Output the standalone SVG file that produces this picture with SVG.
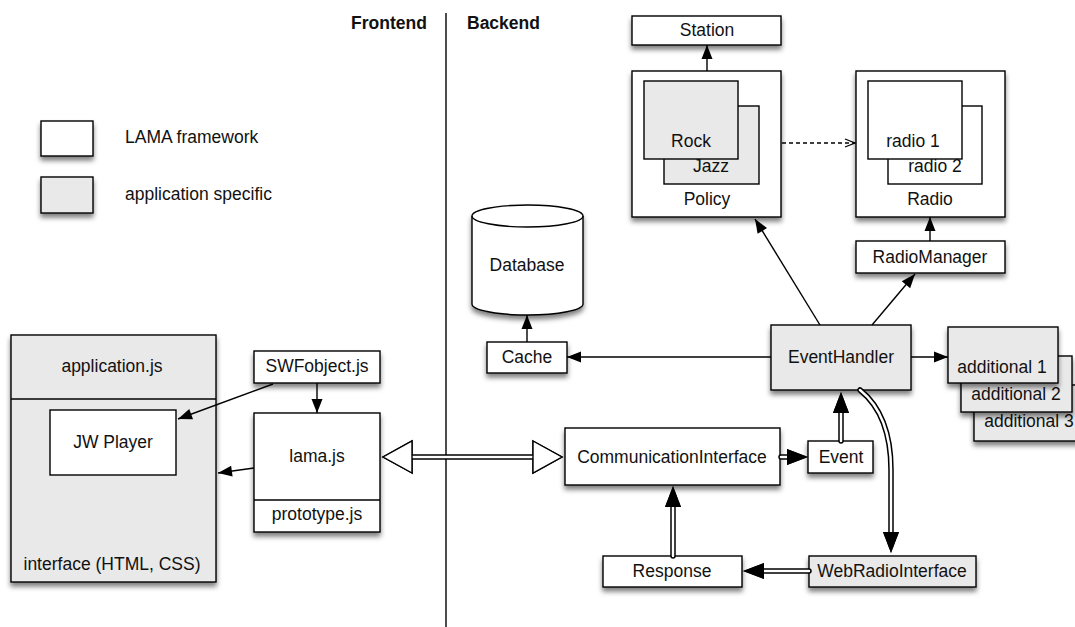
<svg xmlns="http://www.w3.org/2000/svg" width="1075" height="627" viewBox="0 0 1075 627">
<defs>
<filter id="sh" x="-20%" y="-30%" width="140%" height="200%"><feDropShadow dx="0" dy="4" stdDeviation="2.5" flood-color="#000" flood-opacity="0.5"/></filter>
<marker id="ah" markerUnits="userSpaceOnUse" viewBox="0 -8 16 16" markerWidth="16" markerHeight="16" refX="14" refY="0" orient="auto" overflow="visible"><path d="M0,-5.5 L14,0 L0,5.5 z" fill="#000"/></marker>
<marker id="big" markerUnits="userSpaceOnUse" viewBox="0 -10 24 20" markerWidth="24" markerHeight="20" refX="0" refY="0" orient="auto" overflow="visible"><path d="M0,-8 L21,0 L0,8 z" fill="#000"/></marker>
<marker id="hol" markerUnits="userSpaceOnUse" viewBox="-2 -18 34 36" markerWidth="34" markerHeight="36" refX="0" refY="0" orient="auto-start-reverse" overflow="visible"><path d="M0,-16 L29,0 L0,16 z" fill="#fff" stroke="#000" stroke-width="1.4"/></marker>
<marker id="vee" markerUnits="userSpaceOnUse" viewBox="0 -6 12 12" markerWidth="12" markerHeight="12" refX="10" refY="0" orient="auto" overflow="visible"><path d="M0,-4 L10,0 L0,4" fill="none" stroke="#000" stroke-width="1.3"/></marker>
</defs>
<style>
text{font-family:"Liberation Sans",Arial,Helvetica,sans-serif;font-size:17.5px;fill:#111}
.c{text-anchor:middle}
.h{font-weight:bold}
.b{fill:#fff;stroke:#000;stroke-width:1.4}
.g{fill:#e9e9e9;stroke:#000;stroke-width:1.4}
.s{filter:url(#sh)}
.ln{fill:none;stroke:#000;stroke-width:1.4}
.a{fill:none;stroke:#000;stroke-width:1.4;marker-end:url(#ah)}
.do{fill:none;stroke:#000;stroke-width:5.5;stroke-linecap:round}
.di{fill:none;stroke:#fff;stroke-width:2.5;stroke-linecap:round}
.bg{marker-end:url(#big)}
</style>
<rect width="1075" height="627" fill="#fff"/>

<g id="labels">
<text class="h" x="351" y="29">Frontend</text>
<text class="h" x="467" y="29">Backend</text>
<line class="ln" x1="446" y1="13" x2="446" y2="627"/>
</g>

<g id="legend-lama"><rect class="b s" x="41" y="121" width="52" height="35"/><text x="125" y="143">LAMA framework</text></g>
<g id="legend-app"><rect class="g s" x="41" y="177" width="52" height="36"/><text x="125" y="200">application specific</text></g>

<g id="application"><rect class="g s" x="11" y="335" width="205" height="247"/><line class="ln" x1="11" y1="399" x2="216" y2="399"/><text class="c" x="112" y="372">application.js</text><text class="c" x="112" y="570">interface (HTML, CSS)</text></g>
<g id="jwplayer"><rect class="b" x="50" y="410" width="126" height="65"/><text class="c" x="113" y="448">JW Player</text></g>
<g id="swfobject"><rect class="b s" x="254" y="351" width="126" height="32"/><text class="c" x="317" y="372">SWFobject.js</text></g>
<g id="lama"><rect class="b s" x="254" y="413" width="126" height="119"/><line class="ln" x1="254" y1="500" x2="380" y2="500"/><text class="c" x="317" y="462">lama.js</text><text class="c" x="317" y="520">prototype.js</text></g>

<g id="station"><rect class="b s" x="632" y="16" width="149" height="29"/><text class="c" x="707" y="36">Station</text></g>
<g id="policy"><rect class="b s" x="632" y="71" width="149" height="146"/>
<rect class="g" x="664" y="106" width="95" height="78"/><rect class="g" x="644" y="81" width="94" height="78"/>
<text class="c" x="691" y="147">Rock</text><text class="c" x="711" y="172">Jazz</text><text class="c" x="707" y="205">Policy</text></g>
<g id="radio"><rect class="b s" x="856" y="71" width="149" height="146"/>
<rect class="b" x="888" y="106" width="94" height="78"/><rect class="b" x="868" y="81" width="94" height="78"/>
<text class="c" x="913" y="147">radio 1</text><text class="c" x="935" y="172">radio 2</text><text class="c" x="930" y="205">Radio</text></g>
<g id="radiomanager"><rect class="b s" x="856" y="241" width="149" height="32"/><text class="c" x="930" y="263">RadioManager</text></g>

<g id="database"><path class="b s" d="M472,216 A55.5,11 0 0 1 583,216 L583,304 A55.5,11 0 0 1 472,304 Z"/><path class="ln" d="M472,216 A55.5,11 0 0 0 583,216"/><text class="c" x="527" y="271">Database</text></g>
<g id="cache"><rect class="b s" x="487" y="342" width="80" height="31"/><text class="c" x="527" y="363">Cache</text></g>

<g id="eventhandler"><rect class="g s" x="771" y="325" width="140" height="65"/><text class="c" x="841" y="363">EventHandler</text></g>
<g id="additional3"><rect class="g s" x="974" y="385" width="110" height="56"/><text class="c" x="1029" y="427">additional 3</text></g>
<g id="additional2"><rect class="g s" x="961" y="356" width="111" height="56"/><text class="c" x="1016" y="400">additional 2</text></g>
<g id="additional1"><rect class="g s" x="948" y="327" width="110" height="56"/><text class="c" x="1002" y="373">additional 1</text></g>

<g id="communicationinterface"><rect class="b s" x="565" y="428" width="215" height="57"/><text class="c" x="672" y="463">CommunicationInterface</text></g>
<g id="event"><rect class="b s" x="808" y="441" width="65" height="32"/><text class="c" x="841" y="463">Event</text></g>
<g id="response"><rect class="b s" x="603" y="556" width="139" height="31"/><text class="c" x="672" y="577">Response</text></g>
<g id="webradiointerface"><rect class="g s" x="809" y="556" width="167" height="31"/><text class="c" x="892" y="577">WebRadioInterface</text></g>

<g id="connectors">
<path class="a" d="M707,71 L707,45"/>
<path class="a" d="M930,241 L930,217"/>
<path class="a" d="M820,325 L755,219"/>
<path class="a" d="M872,325 L915,274"/>
<path class="a" d="M771,357 L567,357"/>
<path class="a" d="M527,342 L527,315"/>
<path class="a" d="M911,357 L948,357"/>
<path class="a" d="M273,384 L178,419"/>
<path class="a" d="M317,383 L317,413"/>
<path class="a" d="M254,468 L218,473"/>
<path d="M782,143 L855,143" fill="none" stroke="#000" stroke-width="1.3" stroke-dasharray="4,3" marker-end="url(#vee)"/>

<path class="do" d="M412,457 L533,457" marker-start="url(#hol)" marker-end="url(#hol)"/>
<path class="di" d="M412,457 L533,457" marker-start="url(#hol)" marker-end="url(#hol)"/>

<path class="do bg" d="M781,457 L787,457"/><path class="di bg" d="M781,457 L787,457"/>
<path class="do bg" d="M841,441 L841,413"/><path class="di bg" d="M841,441 L841,413"/>
<path class="do bg" d="M673,556 L673,507"/><path class="di bg" d="M673,556 L673,507"/>
<path class="do bg" d="M809,571 L764,571"/><path class="di bg" d="M809,571 L764,571"/>
<path class="do bg" d="M860,390 Q891,415 891,470 L891,532"/><path class="di bg" d="M860,390 Q891,415 891,470 L891,532"/>
</g>
</svg>
